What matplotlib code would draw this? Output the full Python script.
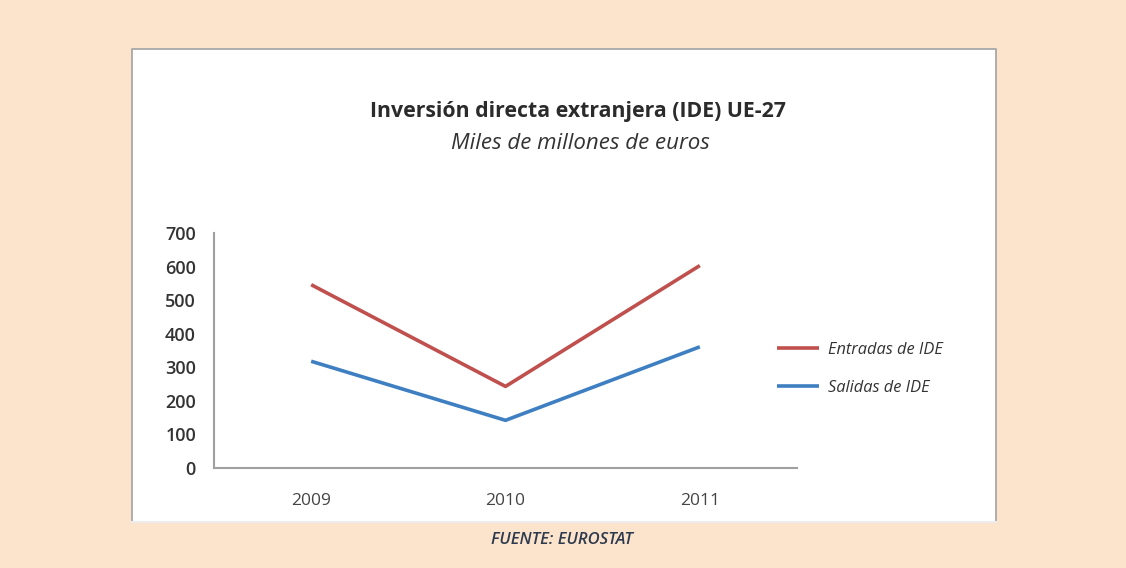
import matplotlib.pyplot as plt
from matplotlib.patches import Rectangle
from matplotlib.lines import Line2D

# Data (miles de millones de euros)
years = ["2009", "2010", "2011"]
entradas = [546, 243, 603]
salidas = [318, 142, 361]
y_ticks = [0, 100, 200, 300, 400, 500, 600, 700]

bg = "#fce3cc"
red = "#c0504d"
blue = "#3e7fc2"
font = "Open Sans"

W, H = 1126, 568
fig = plt.figure(figsize=(W / 100, H / 100), dpi=100)
fig.patch.set_facecolor(bg)

# white panel, grey border on three sides
x0, x1, y0, y1 = 132 / W, 996 / W, 1 - 522 / H, 1 - 49 / H
fig.patches.append(Rectangle((x0, y0), x1 - x0, y1 - y0, transform=fig.transFigure,
                             facecolor="white", edgecolor="none", zorder=-2))
fig.lines.append(Line2D([x0, x0, x1, x1], [y0, y1, y1, y0], transform=fig.transFigure,
                        color="#a8a8a8", lw=1.3, zorder=-1))
fig.lines.append(Line2D([x0, x1], [y0, y0], transform=fig.transFigure,
                        color="#ececec", lw=1.5, zorder=-1))

ax = fig.add_axes([214 / W, 1 - 468 / H, (797 - 214) / W, (468 - 233) / H])
ax.set_facecolor("none")
x = range(len(years))
ax.plot(x, entradas, color=red, lw=2.6, label="Entradas de IDE", solid_capstyle="butt")
ax.plot(x, salidas, color=blue, lw=2.6, label="Salidas de IDE", solid_capstyle="butt")

ax.set_xlim(-0.5, 2.5)
ax.set_ylim(0, 700)
ax.set_yticks(y_ticks)
ax.set_xticks(list(x))
ax.set_xticklabels(years)
for s in ["top", "right"]:
    ax.spines[s].set_visible(False)
for s in ["left", "bottom"]:
    ax.spines[s].set_color("#a0a0a0")
    ax.spines[s].set_linewidth(1.5)
ax.tick_params(axis="both", length=0)
ax.tick_params(axis="y", pad=13)
ax.tick_params(axis="x", pad=18)
for lab in ax.get_yticklabels():
    lab.set_fontfamily(font)
    lab.set_fontsize(13)
    lab.set_fontweight("semibold")
    lab.set_color("#333333")
for lab in ax.get_xticklabels():
    lab.set_fontfamily(font)
    lab.set_fontsize(12.5)
    lab.set_color("#444444")

fig.text(578 / W, 1 - 112 / H, "Inversión directa extranjera (IDE) UE-27",
         ha="center", va="center", fontsize=15.3, fontweight="bold",
         family=font, color="#2b2b2b")
fig.text(580 / W, 1 - 143 / H, "Miles de millones de euros",
         ha="center", va="center", fontsize=16, style="italic",
         family=font, color="#333333")

leg = fig.legend(loc="center left", bbox_to_anchor=(762 / W, 1 - 369 / H),
                 frameon=False, handlelength=2.6, handletextpad=0.5,
                 labelspacing=1.35, prop={"family": font, "size": 11.8, "style": "italic"})
for t in leg.get_texts():
    t.set_color("#333333")

fig.text(562 / W, 1 - 540 / H, "FUENTE: EUROSTAT", ha="center", va="center",
         fontsize=12, style="italic", fontweight="semibold", family=font,
         color="#2e3a4e")

fig.savefig("out.png", dpi=100, facecolor=bg)
